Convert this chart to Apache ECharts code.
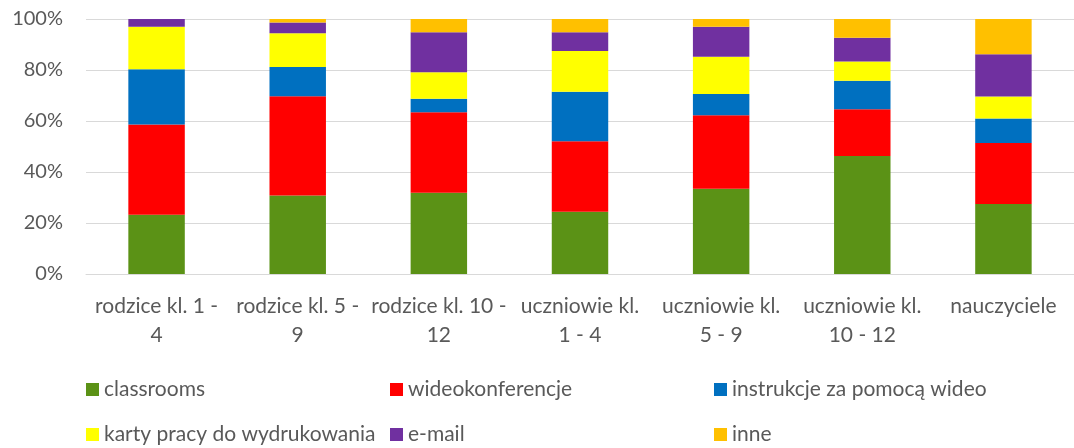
<!DOCTYPE html>
<html>
<head>
<meta charset="utf-8">
<script src="https://cdn.jsdelivr.net/npm/echarts@6/dist/echarts.min.js"></script>
<style>
  html, body { margin: 0; padding: 0; background: #fff; }
  #chart { width: 1074px; height: 448px; }
</style>
</head>
<body>
<div id="chart"></div>
<script>
// kategorie (z łamaniem linii jak w oryginale)
const categories = [
    'rodzice kl. 1 -\n4',
    'rodzice kl. 5 -\n9',
    'rodzice kl. 10 -\n12',
    'uczniowie kl.\n1 - 4',
    'uczniowie kl.\n5 - 9',
    'uczniowie kl.\n10 - 12',
    'nauczyciele'
]
const seriesNames = ['classrooms', 'wideokonferencje', 'instrukcje za pomocą wideo', 'karty pracy do wydrukowania', 'e-mail', 'inne']
const colors = ['#5B9216', '#FF0000', '#0070C0', '#FFFF00', '#7030A0', '#FFC000']

// udziały w %
const classrooms = [23.2, 30.8, 31.9, 24.4, 33.4, 46.3, 27.5]
const wideokonferencje = [35.4, 38.9, 31.5, 27.7, 28.9, 18.3, 23.9]
const instrukcje = [21.7, 11.5, 5.3, 19.4, 8.3, 11.2, 9.6]
const karty = [16.7, 13.2, 10.4, 16.0, 14.6, 7.5, 8.6]
const email = [3.0, 4.2, 15.7, 7.3, 11.8, 9.3, 16.6]
const inne = [0, 1.4, 5.2, 5.2, 3.0, 7.4, 13.8]

const yTicks = [0, 20, 40, 60, 80, 100]

const values = [classrooms, wideokonferencje, instrukcje, karty, email, inne]
const font = 'Lato, "Open Sans", sans-serif'
const textColor = '#595959'

const chart = echarts.init(document.getElementById('chart'))

// legenda: 3 kolumny x 2 wiersze, każdy wpis osobno
const legendPos = [[81, 374], [385, 374], [709, 374], [81, 419], [385, 419], [709, 419]]
const legends = seriesNames.map((name, i) => ({
    left: legendPos[i][0],
    top: legendPos[i][1],
    itemWidth: 13,
    itemHeight: 13,
    icon: 'rect',
    data: [name],
    textStyle: { fontFamily: font, fontSize: 21, color: textColor },
    selectedMode: false
}))

const option = {
    animation: false,
    grid: { left: 86, right: -7, top: 19, bottom: 174 },
    legend: legends,
    xAxis: {
        type: 'category',
        data: categories,
        axisLine: { lineStyle: { color: '#D9D9D9', width: 1 } },
        axisTick: { show: false },
        axisLabel: {
            interval: 0,
            margin: 18,
            fontFamily: font,
            fontSize: 21,
            lineHeight: 29,
            color: textColor
        }
    },
    yAxis: {
        type: 'value',
        min: yTicks[0],
        max: yTicks[yTicks.length - 1],
        interval: 20,
        axisLine: { show: false },
        axisTick: { show: false },
        splitLine: { lineStyle: { color: '#D9D9D9', width: 1 } },
        axisLabel: {
            margin: 23,
            fontFamily: font,
            fontSize: 20,
            color: textColor,
            formatter: '{value}%'
        }
    },
    series: seriesNames.map((name, i) => ({
        name: name,
        type: 'bar',
        stack: 'total',
        barWidth: '40%',
        data: values[i],
        itemStyle: { color: colors[i] }
    }))
}

chart.setOption(option)
</script>
</body>
</html>
